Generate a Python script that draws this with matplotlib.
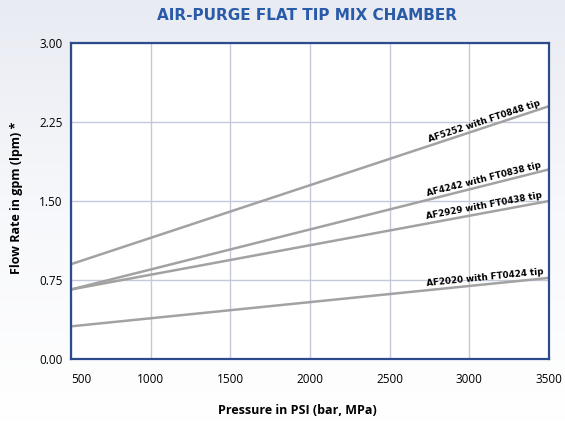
import numpy as np
import matplotlib
matplotlib.use("Agg")
import matplotlib.pyplot as plt
from matplotlib.colors import LinearSegmentedColormap

# data
pressure = [500, 3500]
af5252 = [0.90, 2.40]
af4242 = [0.66, 1.80]
af2929 = [0.66, 1.50]
af2020 = [0.31, 0.77]
series_names = ["AF5252 with FT0848 tip", "AF4242 with FT0838 tip",
                "AF2929 with FT0438 tip", "AF2020 with FT0424 tip"]
series = [af5252, af4242, af2929, af2020]
x_ticks = [500, 1000, 1500, 2000, 2500, 3000, 3500]
y_ticks = [0.0, 0.75, 1.5, 2.25, 3.0]

fig = plt.figure(figsize=(5.65, 4.22), dpi=100)

# soft background gradient
bg = fig.add_axes([0, 0, 1, 1], zorder=-10)
grad = np.linspace(0, 1, 256).reshape(-1, 1)
cmap = LinearSegmentedColormap.from_list("bg", ["#e8ebf2", "#f7f8fb", "#ffffff"])
bg.imshow(grad, aspect="auto", cmap=cmap, extent=[0, 1, 0, 1])
bg.axis("off")

W, H = 565, 422
left, right, top, bottom = 71, 549, 43, 359
ax = fig.add_axes([left / W, 1 - bottom / H, (right - left) / W, (bottom - top) / H])
ax.set_facecolor("white")

for vals in series:
    ax.plot(pressure, vals, color="#a2a2a2", lw=1.8, solid_capstyle="butt", zorder=3)

ax.set_xlim(500, 3500)
ax.set_ylim(0, 3)
ax.set_xticks(x_ticks)
ax.set_yticks(y_ticks)
ax.set_yticklabels([f"{v:.2f}" for v in y_ticks])
ax.grid(True, color="#c3c9da", lw=1.0, zorder=0)
ax.tick_params(length=0, labelsize=8.5, colors="black")
ax.tick_params(axis="y", pad=6)
ax.tick_params(axis="x", pad=10)
for lab in ax.get_xticklabels() + ax.get_yticklabels():
    lab.set_fontfamily("Open Sans")
ax.get_xticklabels()[0].set_ha("left")
for s in ax.spines.values():
    s.set_color("#2b4b8c")
    s.set_linewidth(1.6)
    s.set_zorder(5)

# labels along each line near the right end
fig.canvas.draw()
xl = 3100
for name, vals in zip(series_names, series):
    slope = (vals[1] - vals[0]) / (pressure[1] - pressure[0])
    yl = vals[0] + slope * (xl - pressure[0])
    p1 = ax.transData.transform((pressure[0], vals[0]))
    p2 = ax.transData.transform((pressure[1], vals[1]))
    ang = np.degrees(np.arctan2(p2[1] - p1[1], p2[0] - p1[0]))
    ax.annotate(name, (xl, yl), xytext=(0, 1.5), textcoords="offset points",
                ha="center", va="bottom", rotation=ang, rotation_mode="anchor",
                fontsize=6.3, fontweight="bold", family="Liberation Sans Narrow",
                color="black", zorder=6)

fig.text(307 / W, 1 - 15 / H, "AIR-PURGE FLAT TIP MIX CHAMBER", ha="center", va="center",
         fontsize=11, fontweight="bold", family="Liberation Sans Narrow", color="#2a5ba8")
fig.text(297 / W, 1 - 410 / H, "Pressure in PSI (bar, MPa)", ha="center", va="center",
         fontsize=9, fontweight="bold", family="Open Sans")
fig.text(17 / W, 1 - 198 / H, "Flow Rate in gpm (lpm) *", ha="center", va="center",
         rotation=90, fontsize=9, fontweight="bold", family="Open Sans")

fig.savefig("out.png", dpi=100)
